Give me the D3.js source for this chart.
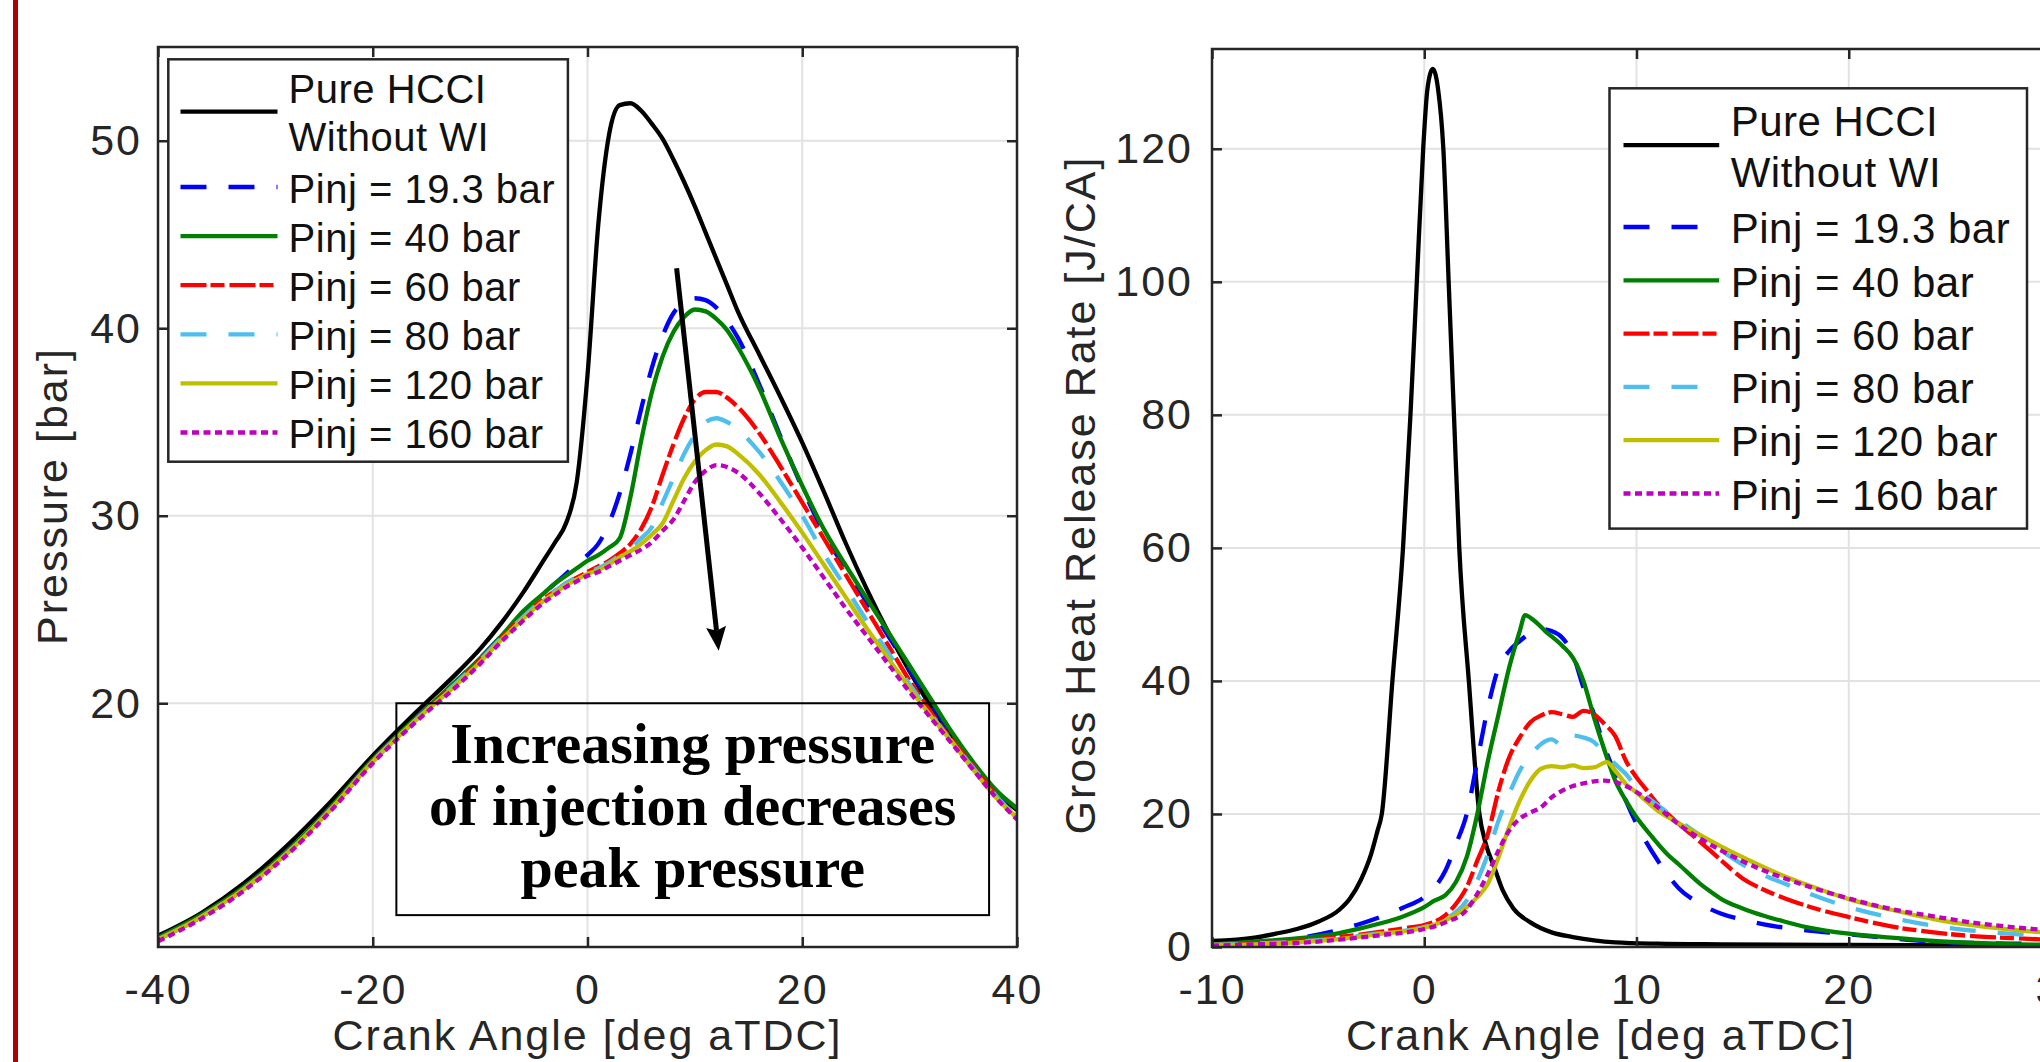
<!DOCTYPE html>
<html>
<head>
<meta charset="utf-8">
<script src="https://cdn.jsdelivr.net/npm/d3@7"></script>
<style>
  html, body { margin: 0; padding: 0; background: #fff; }
  svg { display: block; font-family: 'Liberation Sans', Arial, sans-serif; }
</style>
</head>
<body>
<svg id="chart" width="2040" height="1062"></svg>
<script>
// ---- data ----

// left panel: cylinder pressure [bar] vs crank angle
const anglesP = [-40, -36, -32, -28, -24, -20, -16, -12, -10, -8, -6, -4, -3, -2, -1,
  0, 1, 2, 3, 4, 5, 6, 7, 8, 9, 10, 11, 12, 13, 14,
  16, 18, 20, 22, 24, 26, 28, 30, 32, 34, 36, 38, 40];
const pHCCI = [7.6, 8.8, 10.4, 12.4, 14.7, 17.2, 19.5, 21.7, 22.9, 24.3, 25.9, 27.7, 28.6, 29.6, 31.8,
  37.5, 45.5, 50.3, 51.9, 52.0, 51.6, 50.9, 50.1, 49.0, 47.8, 46.5, 45.1, 43.7, 42.3, 40.9,
  38.6, 36.3, 33.9, 31.3, 28.6, 26.1, 23.8, 21.7, 19.8, 18.1, 16.6, 15.3, 14.3];
const p193 = [7.5, 8.7, 10.2, 12.1, 14.4, 17.0, 19.2, 21.3, 22.4, 23.6, 24.8, 25.9, 26.4, 26.9, 27.4,
  27.9, 28.5, 29.6, 31.2, 33.3, 35.7, 37.9, 39.6, 40.8, 41.4, 41.6, 41.5, 41.1, 40.4, 39.5,
  37.0, 34.2, 31.5, 29.1, 27.2, 25.4, 23.6, 21.8, 20.0, 18.3, 16.7, 15.3, 14.2];
const p40 = [7.5, 8.7, 10.2, 12.1, 14.4, 17.0, 19.2, 21.3, 22.4, 23.6, 24.9, 25.9, 26.4, 26.8, 27.2,
  27.6, 27.9, 28.3, 28.8, 31.0, 34.0, 36.6, 38.5, 39.8, 40.6, 41.0, 40.9, 40.5, 39.9, 39.0,
  36.8, 34.1, 31.6, 29.3, 27.4, 25.6, 23.8, 22.0, 20.2, 18.4, 16.8, 15.4, 14.4];
const p60 = [7.4, 8.6, 10.1, 12.0, 14.3, 16.9, 19.1, 21.2, 22.3, 23.5, 24.6, 25.6, 26.0, 26.4, 26.7,
  27.0, 27.3, 27.6, 28.0, 28.5, 29.3, 30.5, 32.2, 33.8, 35.2, 36.2, 36.6, 36.6, 36.3, 35.8,
  34.4, 32.6, 30.7, 28.8, 26.9, 25.0, 23.1, 21.2, 19.5, 18.0, 16.6, 15.1, 13.9];
const p80 = [7.4, 8.6, 10.1, 12.0, 14.3, 16.9, 19.1, 21.2, 22.3, 23.5, 24.6, 25.6, 26.0, 26.4, 26.7,
  27.0, 27.2, 27.5, 27.9, 28.3, 28.8, 29.4, 30.7, 32.0, 33.3, 34.3, 35.0, 35.2, 35.0, 34.6,
  33.4, 31.8, 30.0, 28.0, 26.2, 24.4, 22.7, 21.0, 19.4, 17.9, 16.5, 15.1, 13.9];
const p120 = [7.4, 8.6, 10.1, 12.0, 14.3, 16.9, 19.1, 21.1, 22.2, 23.4, 24.5, 25.5, 25.9, 26.3, 26.6,
  26.9, 27.1, 27.4, 27.8, 28.1, 28.5, 29.0, 29.6, 30.8, 32.0, 32.9, 33.5, 33.8, 33.7, 33.3,
  32.2, 30.7, 29.1, 27.4, 25.7, 24.0, 22.4, 20.8, 19.3, 17.9, 16.4, 15.0, 13.9];
const p160 = [7.3, 8.5, 10.0, 11.9, 14.2, 16.8, 19.0, 21.0, 22.1, 23.3, 24.4, 25.4, 25.8, 26.2, 26.5,
  26.8, 27.0, 27.3, 27.6, 27.9, 28.2, 28.6, 29.2, 29.8, 30.8, 31.8, 32.4, 32.7, 32.6, 32.3,
  31.2, 29.8, 28.3, 26.7, 25.1, 23.6, 22.1, 20.6, 19.2, 17.8, 16.4, 15.0, 13.8];

// right panel: gross heat release rate [J/CA], [crank angle, value]
const hrrHCCI = [[-10, 0.9], [-8, 1.4], [-7, 2.0], [-6, 2.7], [-5, 3.8], [-4, 5.6], [-3.5, 7.3], [-3, 10],
  [-2.5, 14], [-2.2, 17.5], [-2.0, 20], [-1.5, 40], [-1.0, 60], [-0.65, 80], [-0.35, 100], [-0.05, 120],
  [0.15, 129], [0.4, 132], [0.65, 129], [0.9, 120], [1.15, 100], [1.4, 80], [1.65, 60], [2.1, 40],
  [2.6, 20], [2.9, 15.5], [3.3, 12], [3.7, 8.5], [4.2, 5.8], [5, 3.7], [6, 2.2], [7, 1.5], [8, 1.0],
  [9, 0.7], [11, 0.5], [14, 0.4], [20, 0.3], [30, 0.2]];
const hrr193 = [[-10, 0.3], [-8, 0.6], [-6, 1.3], [-4, 2.6], [-3, 3.5], [-2, 4.6], [-1, 5.9], [0, 7.5],
  [0.5, 9], [1, 11.5], [1.5, 15.5], [2, 20], [2.5, 28], [3, 36], [3.5, 42], [4, 44.5], [4.5, 46],
  [5, 47.2], [5.5, 47.8], [6, 47.5], [6.5, 46.5], [7, 44], [7.5, 39], [8, 35], [8.5, 30], [9, 26],
  [9.5, 22], [10, 18.5], [11, 13], [12, 8.8], [13, 6.5], [14, 5], [15, 4.1], [16, 3.4], [18, 2.5],
  [20, 1.9], [22, 1.3], [24, 0.8], [26, 0.6], [28, 0.5], [30, 0.5]];
const hrr40 = [[-10, 0.4], [-8, 0.8], [-6, 1.3], [-4, 2.1], [-3, 2.8], [-2, 3.6], [-1, 4.6], [0, 6.0],
  [0.5, 7], [1, 7.8], [1.5, 9.8], [2, 13.5], [2.5, 20], [3, 28], [3.5, 35], [4, 42], [4.5, 47.5],
  [4.75, 49.9], [5.2, 49], [5.7, 47.5], [6.5, 45.3], [7, 43.5], [7.5, 40], [8, 34.5], [8.5, 29.5],
  [9, 25], [9.5, 22], [10, 19.5], [10.75, 16.5], [11.5, 13.8], [12, 12.4], [13, 9.5], [13.5, 8.3],
  [14, 7.2], [15, 5.8], [16, 4.7], [17, 3.8], [18, 3.0], [20, 2.0], [22, 1.4], [24, 0.9], [26, 0.6],
  [28, 0.4], [30, 0.3]];
const hrr60 = [[-10, 0.3], [-8, 0.5], [-6, 0.9], [-4, 1.5], [-2, 2.3], [-1, 2.8], [0, 3.3], [1, 4.8],
  [1.5, 6.5], [2, 9], [2.5, 13], [3, 17], [3.5, 23.5], [4, 28.5], [4.5, 31.5], [5, 33.8], [5.5, 34.8],
  [6, 35.3], [6.5, 35.0], [7, 34.6], [7.5, 35.5], [8, 35], [8.5, 33.5], [9, 31.7], [9.5, 28], [10, 25.5],
  [10.5, 23.5], [11, 21.5], [12, 18.5], [13, 15.8], [14, 13], [15, 10.3], [16, 8.6], [17, 7.3],
  [18, 6.2], [20, 4.5], [22, 3.1], [24, 2.2], [26, 1.6], [28, 1.3], [30, 1.0]];
const hrr80 = [[-10, 0.3], [-8, 0.5], [-6, 0.8], [-4, 1.3], [-2, 2.1], [0, 3.0], [1, 4.2], [2, 7],
  [2.5, 10], [3, 14], [3.5, 19], [4, 23], [4.5, 26.5], [5, 28.8], [5.5, 30.5], [6, 31.2], [6.5, 30.3],
  [7, 31.8], [7.5, 31.5], [8, 30.8], [8.5, 29], [9, 27.5], [9.5, 26], [10, 24], [11, 21.3], [12, 19],
  [13, 16.8], [14, 14.5], [15, 12.4], [16, 10.8], [17, 9.5], [18, 8.2], [20, 6.0], [22, 4.4],
  [24, 3.2], [26, 2.4], [28, 1.9], [30, 1.5]];
const hrr120 = [[-10, 0.3], [-8, 0.4], [-6, 0.7], [-4, 1.2], [-2, 2.0], [0, 2.9], [1, 4.0], [2, 6.0],
  [2.5, 7.5], [3, 9.5], [3.5, 13.5], [4, 18], [4.5, 22], [5, 25], [5.5, 26.8], [6, 27.2], [6.5, 27],
  [7, 27.3], [7.5, 26.9], [8, 27.0], [8.6, 27.8], [9, 26.5], [9.5, 24.5], [10, 23.2], [11, 20.5],
  [12, 18.6], [13, 16.8], [14, 15.1], [15, 13.5], [16, 12.0], [17, 10.6], [18, 9.4], [20, 7.2],
  [22, 5.6], [24, 4.2], [26, 3.2], [28, 2.5], [30, 2.0]];
const hrr160 = [[-10, 0.2], [-8, 0.4], [-6, 0.6], [-4, 1.1], [-2, 1.8], [0, 2.7], [1, 3.7], [2, 5.6],
  [2.5, 8], [3, 11], [3.5, 14.5], [4, 17.5], [4.5, 19.3], [5, 20.2], [5.5, 21], [6, 22.5], [6.5, 23.5],
  [7, 24.2], [7.5, 24.6], [8, 24.9], [8.5, 25], [9, 24.8], [9.5, 24.2], [10, 23.3], [11, 21],
  [12, 18.4], [13, 16.3], [14, 14.5], [15, 12.9], [16, 11.5], [17, 10.3], [18, 9.2], [20, 7.3],
  [22, 5.7], [24, 4.6], [26, 3.6], [28, 2.9], [30, 2.4]];

const seriesNames = ['Pure HCCI|Without WI', 'Pinj = 19.3 bar', 'Pinj = 40 bar', 'Pinj = 60 bar',
  'Pinj = 80 bar', 'Pinj = 120 bar', 'Pinj = 160 bar'];
const seriesColors = ['#000000', '#0000ff', '#008000', '#ff0000', '#4dbeee', '#bfbf00', '#bf00bf'];
const seriesDash = [null, '26,22', null, '26,4,14,5', '26,22', null, '7,4.5'];

const xTicksP = [-40, -20, 0, 20, 40];
const yTicksP = [20, 30, 40, 50];
const xTicksH = [-10, 0, 10, 20, 30];
const yTicksH = [0, 20, 40, 60, 80, 100, 120];

const noteLines = ['Increasing pressure', 'of injection decreases', 'peak pressure'];

// ---- drawing ----
const svg = d3.select('#chart');
const axisColor = '#262626';
const gridColor = '#e2e2e2';

svg.append('rect').attr('width', 2040).attr('height', 1062).attr('fill', '#fff');
// dark red page rule on the far left
svg.append('rect').attr('x', 13).attr('y', 0).attr('width', 5).attr('height', 1062).attr('fill', '#b00000');

const xP = d3.scaleLinear().domain([-40, 40]).range([158, 1017]);
const yP = d3.scaleLinear().domain([7, 55]).range([947, 47]);
const xH = d3.scaleLinear().domain([-10, 30]).range([1212, 2061]);
const yH = d3.scaleLinear().domain([0, 135]).range([947, 49]);

function drawGrid(g, x, y, xt, yt) {
  const [x0, x1] = x.range();
  const [yb, yt0] = y.range();
  g.append('g').selectAll('line').data(xt).join('line')
    .attr('x1', d => x(d)).attr('x2', d => x(d)).attr('y1', yt0).attr('y2', yb)
    .attr('stroke', gridColor).attr('stroke-width', 2);
  g.append('g').selectAll('line').data(yt).join('line')
    .attr('x1', x0).attr('x2', x1).attr('y1', d => y(d)).attr('y2', d => y(d))
    .attr('stroke', gridColor).attr('stroke-width', 2);
}

function styleAxis(a) {
  a.select('.domain').remove();
  a.attr('font-size', null).attr('font-family', null);
  a.selectAll('line').attr('stroke', axisColor).attr('stroke-width', 2.5);
  a.selectAll('text').attr('fill', axisColor).style('font-size', '43px').style('letter-spacing', '2px');
}

function drawFrame(g, x, y, xt, yt, padY) {
  const [x0, x1] = x.range();
  const [yb, ytop] = y.range();
  const fmt = d => String(d);
  styleAxis(g.append('g').attr('transform', `translate(0,${yb})`)
    .call(d3.axisBottom(x).tickValues(xt).tickSize(-10).tickPadding(26).tickFormat(fmt)));
  styleAxis(g.append('g').attr('transform', `translate(0,${ytop})`)
    .call(d3.axisTop(x).tickValues(xt).tickSize(-10).tickFormat('')));
  styleAxis(g.append('g').attr('transform', `translate(${x0},0)`)
    .call(d3.axisLeft(y).tickValues(yt).tickSize(-10).tickPadding(padY).tickFormat(fmt)));
  styleAxis(g.append('g').attr('transform', `translate(${x1},0)`)
    .call(d3.axisRight(y).tickValues(yt).tickSize(-10).tickFormat('')));
  g.append('rect').attr('x', x0).attr('y', ytop).attr('width', x1 - x0).attr('height', yb - ytop)
    .attr('fill', 'none').attr('stroke', axisColor).attr('stroke-width', 2.5);
}

function drawLines(g, id, x, y, seriesList) {
  const [x0, x1] = x.range();
  const [yb, ytop] = y.range();
  svg.append('clipPath').attr('id', id).append('rect')
    .attr('x', x0).attr('y', ytop).attr('width', x1 - x0).attr('height', yb - ytop);
  const line = d3.line().x(d => x(d[0])).y(d => y(d[1])).curve(d3.curveMonotoneX);
  const lg = g.append('g').attr('clip-path', `url(#${id})`);
  seriesList.forEach((pts, i) => {
    lg.append('path').datum(pts)
      .attr('fill', 'none')
      .attr('stroke', seriesColors[i])
      .attr('stroke-width', 4.3)
      .attr('stroke-dasharray', seriesDash[i])
      .attr('stroke-linejoin', 'round')
      .attr('d', line);
  });
}

function drawLegend(g, o) {
  g.append('rect').attr('x', o.x).attr('y', o.y).attr('width', o.w).attr('height', o.h)
    .attr('fill', '#fff').attr('stroke', axisColor).attr('stroke-width', 2.5);
  seriesNames.forEach((name, i) => {
    const parts = name.split('|');
    let rows, lineY;
    if (i === 0) {
      rows = [o.firstY - 2.02 * o.step, o.firstY - 1.05 * o.step];
      lineY = (rows[0] + rows[1]) / 2 - 1.5;
    } else {
      rows = [o.firstY + (i - 1) * o.step];
      lineY = rows[0] - 1.5;
    }
    g.append('line')
      .attr('x1', o.lx1).attr('x2', o.lx2).attr('y1', lineY).attr('y2', lineY)
      .attr('stroke', seriesColors[i]).attr('stroke-width', 4.3)
      .attr('stroke-dasharray', seriesDash[i]);
    parts.forEach((t, k) => {
      g.append('text').attr('x', o.tx).attr('y', rows[k] + 0.35 * o.fs)
        .attr('fill', '#111').style('font-size', o.fs + 'px').style('letter-spacing', '0.5px')
        .text(t);
    });
  });
}

function axisLabel(x, y, rot, text) {
  svg.append('text')
    .attr('transform', `translate(${x},${y}) rotate(${rot})`)
    .attr('text-anchor', 'middle').attr('fill', axisColor)
    .style('font-size', '43px').style('letter-spacing', '2px')
    .text(text);
}

// left panel
const gL = svg.append('g');
drawGrid(gL, xP, yP, xTicksP, yTicksP);
const pressureSeries = [pHCCI, p193, p40, p60, p80, p120, p160]
  .map(vals => vals.map((v, j) => [anglesP[j], v]));
drawLines(gL, 'clipP', xP, yP, pressureSeries);
drawFrame(gL, xP, yP, xTicksP, yTicksP, 16);
drawLegend(gL, { x: 168.3, y: 59.3, w: 399.6, h: 402.4, lx1: 180.5, lx2: 277.5, tx: 288.6,
  fs: 40, firstY: 188.5, step: 49.1 });

// annotation box and arrow in pressure panel
const bx0 = xP(-17.8), bx1 = xP(37.4), by0 = yP(20), by1 = yP(8.7);
gL.append('rect').attr('x', bx0).attr('y', by0).attr('width', bx1 - bx0).attr('height', by1 - by0)
  .attr('fill', 'none').attr('stroke', '#000').attr('stroke-width', 2);
noteLines.forEach((t, i) => {
  gL.append('text')
    .attr('x', (bx0 + bx1) / 2).attr('y', by0 + 60 + i * 62)
    .attr('text-anchor', 'middle')
    .style('font-family', "'Liberation Serif', 'Times New Roman', serif")
    .style('font-weight', 'bold').style('font-size', '58px')
    .text(t);
});
const a0 = [xP(8.3), yP(43.2)], a1 = [xP(12.22), yP(22.8)];
const ang = Math.atan2(a1[1] - a0[1], a1[0] - a0[0]);
const headLen = 24;
gL.append('line')
  .attr('x1', a0[0]).attr('y1', a0[1])
  .attr('x2', a1[0] - Math.cos(ang) * (headLen - 4)).attr('y2', a1[1] - Math.sin(ang) * (headLen - 4))
  .attr('stroke', '#000').attr('stroke-width', 5);
gL.append('path')
  .attr('d', 'M0,-10 L24,0 L0,10 L4,0 Z')
  .attr('transform', `translate(${a1[0] - Math.cos(ang) * headLen},${a1[1] - Math.sin(ang) * headLen}) rotate(${ang * 180 / Math.PI})`)
  .attr('fill', '#000');

axisLabel(587.5, 1050, 0, 'Crank Angle [deg aTDC]');
axisLabel(67, 496, -90, 'Pressure [bar]');

// right panel
const gR = svg.append('g');
drawGrid(gR, xH, yH, xTicksH, yTicksH);
drawLines(gR, 'clipH', xH, yH, [hrrHCCI, hrr193, hrr40, hrr60, hrr80, hrr120, hrr160]);
drawFrame(gR, xH, yH, xTicksH, yTicksH, 19);
drawLegend(gR, { x: 1609.5, y: 88.3, w: 417.5, h: 440.3, lx1: 1623.5, lx2: 1719.2, tx: 1730.7,
  fs: 42, firstY: 228.5, step: 53.3 });

axisLabel(1601, 1050, 0, 'Crank Angle [deg aTDC]');
axisLabel(1095, 495, -90, 'Gross Heat Release Rate [J/CA]');
</script>
</body>
</html>
